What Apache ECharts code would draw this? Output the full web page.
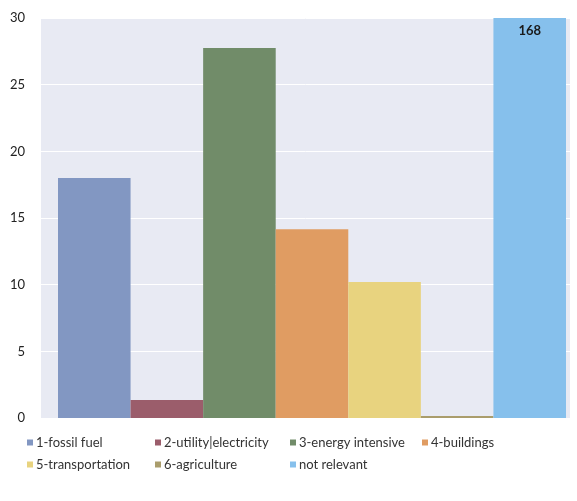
<!DOCTYPE html>
<html>
<head>
<meta charset="utf-8">
<script src="https://cdn.jsdelivr.net/npm/echarts@6/dist/echarts.min.js"></script>
<style>
    html, body { margin: 0; padding: 0; background: #fff; }
    #chart { width: 577px; height: 501px; }
</style>
</head>
<body>
<div id="chart"></div>
<script>
// sector values
var sectors = ['1-fossil fuel', '2-utility|electricity', '3-energy intensive', '4-buildings',
    '5-transportation', '6-agriculture', 'not relevant'];
var values = [18.0, 1.35, 27.75, 14.15, 10.2, 0.15, 168];
var colors = ['#8297c2', '#9b5d6b', '#718c69', '#e09c62', '#e8d37f', '#aa9d6c', '#86c0ec'];
var yTicks = [0, 5, 10, 15, 20, 25, 30];

var Y_MAX = 30;
var FONT = 'Lato';

// legend column / row positions
var legendCols = [27, 155, 290, 422];
var legendRows = [436, 458];

var chart = echarts.init(document.getElementById('chart'));

var series = sectors.map(function(name, i) {
    return {
        name: name,
        type: 'bar',
        xAxisIndex: 1,
        yAxisIndex: 1,
        barGap: '0%',
        barCategoryGap: '0%',
        itemStyle: { color: colors[i] },
        // bars above the axis max are cut at the top, the real value is printed inside
        data: [{ value: Math.min(values[i], Y_MAX), realValue: values[i] }],
        label: {
            show: values[i] > Y_MAX,
            position: 'insideTop',
            distance: 6,
            formatter: function(p) { return String(p.data.realValue); },
            color: '#1a1a1a',
            fontFamily: FONT,
            fontWeight: 'bold',
            fontSize: 13
        }
    };
});

var legends = sectors.map(function(name, i) {
    return {
        data: [name],
        left: legendCols[i % 4],
        top: legendRows[Math.floor(i / 4)],
        itemWidth: 6,
        itemHeight: 6,
        icon: 'rect',
        padding: 0,
        selectedMode: false,
        textStyle: { color: '#333', fontFamily: FONT, fontSize: 13, padding: [0, 0, 0, -2] }
    };
});

chart.setOption({
    animation: false,
    legend: legends,
    grid: [
        { left: 41, right: 7, top: 18, bottom: 83, show: true, backgroundColor: '#e8eaf3', borderWidth: 0 },
        { left: 58, right: 11, top: 18, bottom: 83 }
    ],
    xAxis: [
        { type: 'category', gridIndex: 0, data: [''], show: false },
        { type: 'category', gridIndex: 1, data: [''], show: false }
    ],
    yAxis: [
        {
            type: 'value',
            gridIndex: 0,
            min: 0,
            max: Y_MAX,
            interval: 5,
            axisLine: { show: false },
            axisTick: { show: false },
            splitLine: { lineStyle: { color: '#ffffff', width: 1 } },
            axisLabel: {
                margin: 16,
                color: '#222',
                fontFamily: FONT,
                fontSize: 13,
                formatter: function(v) { return yTicks.indexOf(v) >= 0 ? String(v) : ''; }
            }
        },
        { type: 'value', gridIndex: 1, min: 0, max: Y_MAX, interval: 5, show: false }
    ],
    series: series
});
</script>
</body>
</html>
